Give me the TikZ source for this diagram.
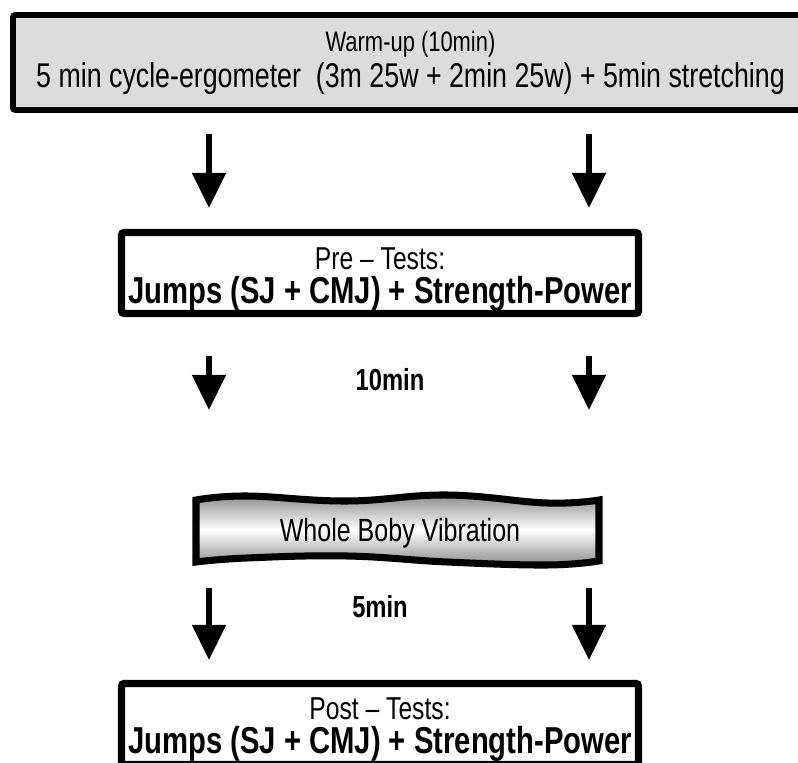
\documentclass[tikz,border=0pt]{standalone}
\usepackage{fontspec}
\setmainfont[FakeStretch=0.78]{Liberation Sans}
\usetikzlibrary{arrows.meta,positioning}
\definecolor{warmgray}{RGB}{220,220,220}
\def\pxu{0.03cm}
\tikzset{
  warmbox/.style={draw, line width=5pt, fill=warmgray, rounded corners=2pt, align=center,
    minimum width=795*\pxu, minimum height=95*\pxu, inner sep=0pt,
    font=\fontsize{29.3}{30.7}\selectfont},
  testbox/.style={draw, line width=6pt, fill=white, rounded corners=2pt,
    minimum width=517*\pxu, minimum height=81*\pxu, inner sep=0pt},
  testtext/.style={align=center, inner sep=0pt, font=\fontsize{32}{29}\selectfont\bfseries},
  downarrow/.style={line width=5pt, -{Triangle[width=28pt,length=30pt]}},
  waittext/.style={font=\fontsize{26}{27}\selectfont\bfseries},
  wbvshade/.style={line width=6pt, top color=black!45, bottom color=black!45, middle color=white},
}
\begin{document}
\begin{tikzpicture}[x=\pxu, y=-\pxu]
  \clip (0,0) rectangle (798,763);

  % warm-up
  \node [warmbox] (warmup) at (410.5,62.5)
    {\fontsize{24}{30.7}\selectfont Warm-up (10min)\\
     5 min cycle-ergometer~ (3m 25w + 2min 25w) + 5min stretching};

  % pre tests
  \node [testbox] (pre) at (380,273) {};
  \node [testtext] (pretxt) at (380,280)
    {\fontsize{27}{29}\mdseries\selectfont Pre -- Tests:\\
     Jumps (SJ + CMJ) + Strength-Power};

  \node [waittext] (wait1) at (390,380) {10min};

  % vibration
  \shadedraw [wbvshade]
    plot [smooth, tension=0.7] coordinates {(196,500) (247,496) (347,501) (447,495) (547,503) (599,500)}
    -- plot [smooth, tension=0.7] coordinates {(599,561) (547,565) (447,562) (347,556) (247,558) (196,562)}
    -- cycle;
  \node (wbv) at (400,533) {\fontsize{27.4}{28}\selectfont Whole Boby Vibration};

  \node [waittext] (wait2) at (380,607) {5min};

  % post tests
  \node [testbox] (post) at (380,724) {};
  \node [testtext] (posttxt) at (380,729.5)
    {\fontsize{27}{29}\mdseries\selectfont Post -- Tests:\\
     Jumps (SJ + CMJ) + Strength-Power};

  % arrows
  \foreach \col/\xx in {l/209, r/589} {
    \coordinate (top\col) at (\xx,134);  \coordinate (pretop\col) at (\xx,208);
    \coordinate (prebot\col) at (\xx,356); \coordinate (wbvtop\col) at (\xx,410);
    \coordinate (wbvbot\col) at (\xx,588); \coordinate (posttop\col) at (\xx,660);
    \draw [downarrow] (top\col) -- (pretop\col);
    \draw [downarrow] (prebot\col) -- (wbvtop\col);
    \draw [downarrow] (wbvbot\col) -- (posttop\col);
  }
\end{tikzpicture}
\end{document}
